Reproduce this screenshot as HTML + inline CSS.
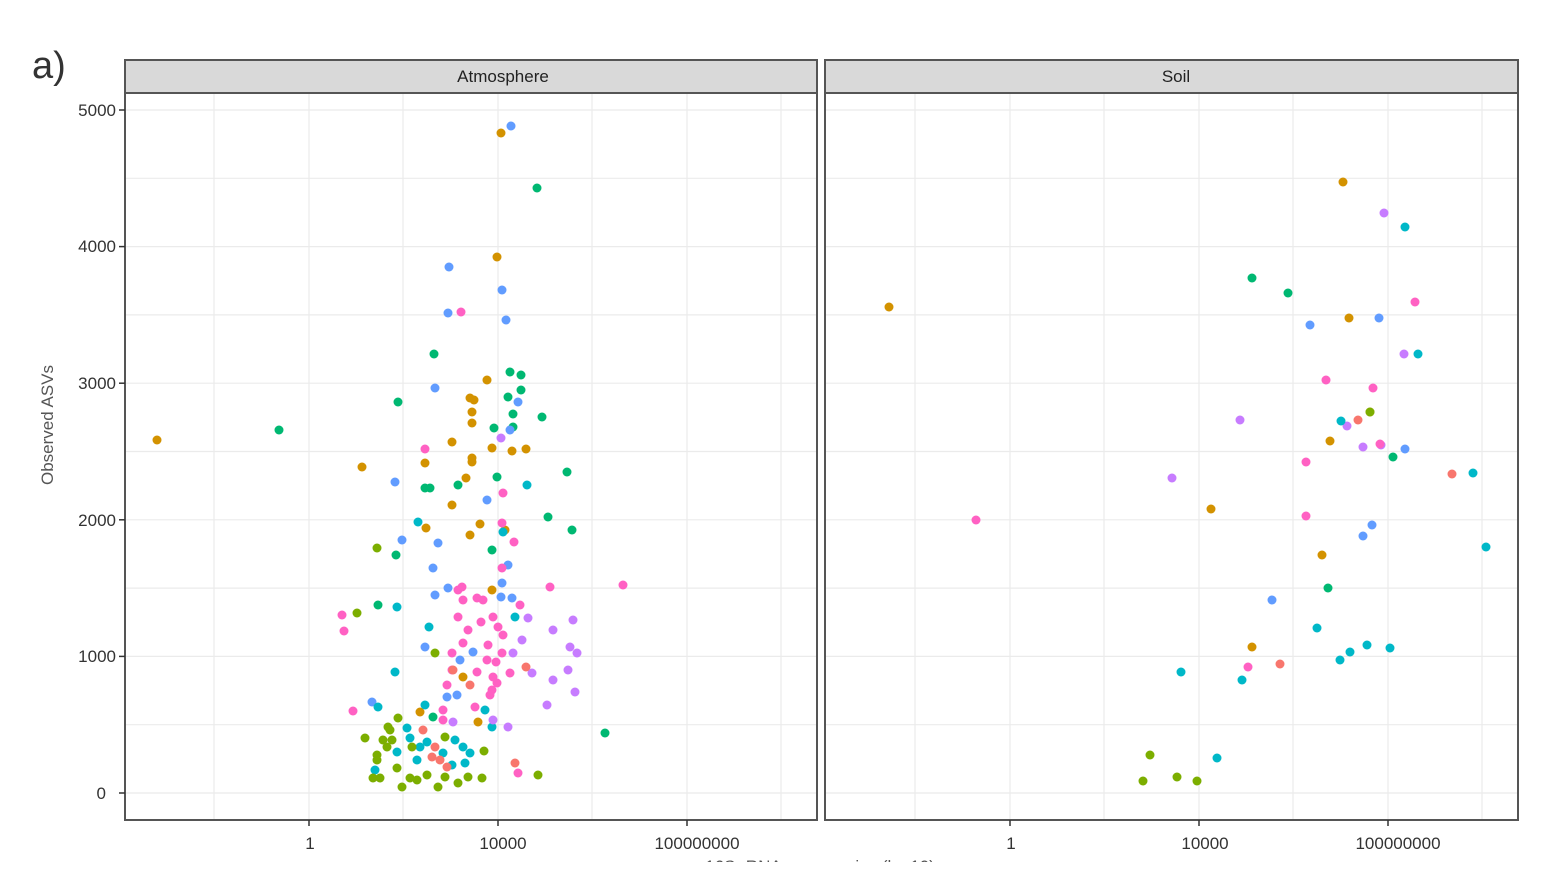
<!DOCTYPE html>
<html><head><meta charset="utf-8"><style>
html,body{margin:0;padding:0;background:#fff;}
svg{display:block;font-family:"Liberation Sans",Arial,sans-serif;}
</style></head><body>
<svg width="1560" height="885" viewBox="0 0 1560 885" xmlns="http://www.w3.org/2000/svg">
<text x="32" y="78" font-size="38" fill="#333">a)</text>
<!-- panels -->
<g stroke="#ebebeb" stroke-width="1.2">
<line x1="125" x2="817" y1="110" y2="110"/><line x1="125" x2="817" y1="246.6" y2="246.6"/><line x1="125" x2="817" y1="383.2" y2="383.2"/><line x1="125" x2="817" y1="519.8" y2="519.8"/><line x1="125" x2="817" y1="656.4" y2="656.4"/><line x1="125" x2="817" y1="793" y2="793"/>
<line x1="125" x2="817" y1="178.3" y2="178.3"/><line x1="125" x2="817" y1="314.9" y2="314.9"/><line x1="125" x2="817" y1="451.5" y2="451.5"/><line x1="125" x2="817" y1="588.1" y2="588.1"/><line x1="125" x2="817" y1="724.7" y2="724.7"/>
<line x1="214" x2="214" y1="93" y2="820"/><line x1="309" x2="309" y1="93" y2="820"/><line x1="403" x2="403" y1="93" y2="820"/><line x1="498" x2="498" y1="93" y2="820"/><line x1="592" x2="592" y1="93" y2="820"/><line x1="687" x2="687" y1="93" y2="820"/><line x1="781" x2="781" y1="93" y2="820"/>
<line x1="825" x2="1518" y1="110" y2="110"/><line x1="825" x2="1518" y1="246.6" y2="246.6"/><line x1="825" x2="1518" y1="383.2" y2="383.2"/><line x1="825" x2="1518" y1="519.8" y2="519.8"/><line x1="825" x2="1518" y1="656.4" y2="656.4"/><line x1="825" x2="1518" y1="793" y2="793"/>
<line x1="825" x2="1518" y1="178.3" y2="178.3"/><line x1="825" x2="1518" y1="314.9" y2="314.9"/><line x1="825" x2="1518" y1="451.5" y2="451.5"/><line x1="825" x2="1518" y1="588.1" y2="588.1"/><line x1="825" x2="1518" y1="724.7" y2="724.7"/>
<line x1="915" x2="915" y1="93" y2="820"/><line x1="1010" x2="1010" y1="93" y2="820"/><line x1="1104" x2="1104" y1="93" y2="820"/><line x1="1199" x2="1199" y1="93" y2="820"/><line x1="1293" x2="1293" y1="93" y2="820"/><line x1="1388" x2="1388" y1="93" y2="820"/><line x1="1482" x2="1482" y1="93" y2="820"/>
</g>
<rect x="125" y="60" width="692" height="33" fill="#d9d9d9" stroke="#555" stroke-width="2"/>
<rect x="825" y="60" width="693" height="33" fill="#d9d9d9" stroke="#555" stroke-width="2"/>
<text x="503" y="82" font-size="17" text-anchor="middle" fill="#222">Atmosphere</text>
<text x="1176" y="82" font-size="17" text-anchor="middle" fill="#222">Soil</text>
<rect x="125" y="93" width="692" height="727" fill="none" stroke="#555" stroke-width="2"/>
<rect x="825" y="93" width="693" height="727" fill="none" stroke="#555" stroke-width="2"/>
<!-- y ticks -->
<g font-size="17" fill="#333" text-anchor="end">
<text x="116" y="116">5000</text><text x="116" y="252">4000</text><text x="116" y="389">3000</text><text x="116" y="526">2000</text><text x="116" y="662">1000</text><text x="106" y="799">0</text>
</g>
<g stroke="#333" stroke-width="1.5"><line x1="119" x2="125" y1="110" y2="110"/><line x1="119" x2="125" y1="246.6" y2="246.6"/><line x1="119" x2="125" y1="383.2" y2="383.2"/><line x1="119" x2="125" y1="519.8" y2="519.8"/><line x1="119" x2="125" y1="656.4" y2="656.4"/><line x1="119" x2="125" y1="793" y2="793"/>
<line x1="309" x2="309" y1="820" y2="826"/><line x1="498" x2="498" y1="820" y2="826"/><line x1="687" x2="687" y1="820" y2="826"/>
<line x1="1010" x2="1010" y1="820" y2="826"/><line x1="1199" x2="1199" y1="820" y2="826"/><line x1="1388" x2="1388" y1="820" y2="826"/></g>
<g font-size="17" fill="#333" text-anchor="middle">
<text x="310" y="849">1</text><text x="503" y="849">10000</text><text x="697" y="849">100000000</text>
<text x="1011" y="849">1</text><text x="1205" y="849">10000</text><text x="1398" y="849">100000000</text>
</g>
<text x="820" y="872" font-size="17" fill="#555" text-anchor="middle">16S rRNA gene copies (log10)</text>
<text transform="translate(53,425) rotate(-90)" font-size="17" fill="#555" text-anchor="middle">Observed ASVs</text>
<g>
<!-- left: teal -->
<g fill="#00B872"><circle cx="510" cy="372" r="4.5"/><circle cx="521" cy="375" r="4.5"/><circle cx="521" cy="390" r="4.5"/><circle cx="508" cy="397" r="4.5"/><circle cx="513" cy="414" r="4.5"/><circle cx="513" cy="427" r="4.5"/><circle cx="494" cy="428" r="4.5"/><circle cx="542" cy="417" r="4.5"/><circle cx="398" cy="402" r="4.5"/><circle cx="497" cy="477" r="4.5"/><circle cx="458" cy="485" r="4.5"/><circle cx="425" cy="488" r="4.5"/><circle cx="430" cy="488" r="4.5"/><circle cx="567" cy="472" r="4.5"/><circle cx="548" cy="517" r="4.5"/><circle cx="572" cy="530" r="4.5"/><circle cx="492" cy="550" r="4.5"/><circle cx="396" cy="555" r="4.5"/><circle cx="378" cy="605" r="4.5"/><circle cx="605" cy="733" r="4.5"/><circle cx="279" cy="430" r="4.5"/><circle cx="537" cy="188" r="4.5"/><circle cx="434" cy="354" r="4.5"/><circle cx="433" cy="717" r="4.5"/></g>
<g fill="#D39200"><circle cx="157" cy="440" r="4.5"/><circle cx="501" cy="133" r="4.5"/><circle cx="497" cy="257" r="4.5"/><circle cx="487" cy="380" r="4.5"/><circle cx="470" cy="398" r="4.5"/><circle cx="474" cy="400" r="4.5"/><circle cx="472" cy="412" r="4.5"/><circle cx="472" cy="423" r="4.5"/><circle cx="452" cy="442" r="4.5"/><circle cx="492" cy="448" r="4.5"/><circle cx="512" cy="451" r="4.5"/><circle cx="526" cy="449" r="4.5"/><circle cx="425" cy="463" r="4.5"/><circle cx="472" cy="458" r="4.5"/><circle cx="472" cy="462" r="4.5"/><circle cx="362" cy="467" r="4.5"/><circle cx="466" cy="478" r="4.5"/><circle cx="452" cy="505" r="4.5"/><circle cx="480" cy="524" r="4.5"/><circle cx="470" cy="535" r="4.5"/><circle cx="426" cy="528" r="4.5"/><circle cx="505" cy="530" r="4.5"/><circle cx="492" cy="590" r="4.5"/><circle cx="463" cy="677" r="4.5"/><circle cx="478" cy="722" r="4.5"/><circle cx="420" cy="712" r="4.5"/></g>
<g fill="#619CFF"><circle cx="511" cy="126" r="4.5"/><circle cx="449" cy="267" r="4.5"/><circle cx="502" cy="290" r="4.5"/><circle cx="506" cy="320" r="4.5"/><circle cx="448" cy="313" r="4.5"/><circle cx="435" cy="388" r="4.5"/><circle cx="518" cy="402" r="4.5"/><circle cx="510" cy="430" r="4.5"/><circle cx="395" cy="482" r="4.5"/><circle cx="487" cy="500" r="4.5"/><circle cx="402" cy="540" r="4.5"/><circle cx="438" cy="543" r="4.5"/><circle cx="433" cy="568" r="4.5"/><circle cx="448" cy="588" r="4.5"/><circle cx="435" cy="595" r="4.5"/><circle cx="501" cy="597" r="4.5"/><circle cx="512" cy="598" r="4.5"/><circle cx="502" cy="583" r="4.5"/><circle cx="508" cy="565" r="4.5"/><circle cx="425" cy="647" r="4.5"/><circle cx="473" cy="652" r="4.5"/><circle cx="460" cy="660" r="4.5"/><circle cx="457" cy="695" r="4.5"/><circle cx="447" cy="697" r="4.5"/><circle cx="372" cy="702" r="4.5"/></g>
<g fill="#00B8C8"><circle cx="527" cy="485" r="4.5"/><circle cx="418" cy="522" r="4.5"/><circle cx="503" cy="532" r="4.5"/><circle cx="397" cy="607" r="4.5"/><circle cx="515" cy="617" r="4.5"/><circle cx="429" cy="627" r="4.5"/><circle cx="395" cy="672" r="4.5"/><circle cx="378" cy="707" r="4.5"/><circle cx="425" cy="705" r="4.5"/><circle cx="485" cy="710" r="4.5"/><circle cx="492" cy="727" r="4.5"/><circle cx="407" cy="728" r="4.5"/><circle cx="410" cy="738" r="4.5"/><circle cx="420" cy="747" r="4.5"/><circle cx="397" cy="752" r="4.5"/><circle cx="417" cy="760" r="4.5"/><circle cx="443" cy="753" r="4.5"/><circle cx="463" cy="747" r="4.5"/><circle cx="470" cy="753" r="4.5"/><circle cx="465" cy="763" r="4.5"/><circle cx="452" cy="765" r="4.5"/><circle cx="375" cy="770" r="4.5"/><circle cx="427" cy="742" r="4.5"/><circle cx="455" cy="740" r="4.5"/></g>
<g fill="#FF61C3"><circle cx="461" cy="312" r="4.5"/><circle cx="425" cy="449" r="4.5"/><circle cx="503" cy="493" r="4.5"/><circle cx="502" cy="523" r="4.5"/><circle cx="514" cy="542" r="4.5"/><circle cx="502" cy="568" r="4.5"/><circle cx="462" cy="587" r="4.5"/><circle cx="458" cy="590" r="4.5"/><circle cx="550" cy="587" r="4.5"/><circle cx="623" cy="585" r="4.5"/><circle cx="477" cy="598" r="4.5"/><circle cx="483" cy="600" r="4.5"/><circle cx="463" cy="600" r="4.5"/><circle cx="520" cy="605" r="4.5"/><circle cx="342" cy="615" r="4.5"/><circle cx="344" cy="631" r="4.5"/><circle cx="458" cy="617" r="4.5"/><circle cx="481" cy="622" r="4.5"/><circle cx="493" cy="617" r="4.5"/><circle cx="498" cy="627" r="4.5"/><circle cx="503" cy="635" r="4.5"/><circle cx="468" cy="630" r="4.5"/><circle cx="463" cy="643" r="4.5"/><circle cx="488" cy="645" r="4.5"/><circle cx="452" cy="653" r="4.5"/><circle cx="502" cy="653" r="4.5"/><circle cx="487" cy="660" r="4.5"/><circle cx="496" cy="662" r="4.5"/><circle cx="477" cy="672" r="4.5"/><circle cx="510" cy="673" r="4.5"/><circle cx="452" cy="670" r="4.5"/><circle cx="493" cy="677" r="4.5"/><circle cx="497" cy="683" r="4.5"/><circle cx="492" cy="690" r="4.5"/><circle cx="447" cy="685" r="4.5"/><circle cx="490" cy="695" r="4.5"/><circle cx="443" cy="710" r="4.5"/><circle cx="443" cy="720" r="4.5"/><circle cx="475" cy="707" r="4.5"/><circle cx="353" cy="711" r="4.5"/><circle cx="518" cy="773" r="4.5"/></g>
<g fill="#C77CFF"><circle cx="501" cy="438" r="4.5"/><circle cx="528" cy="618" r="4.5"/><circle cx="553" cy="630" r="4.5"/><circle cx="573" cy="620" r="4.5"/><circle cx="522" cy="640" r="4.5"/><circle cx="570" cy="647" r="4.5"/><circle cx="577" cy="653" r="4.5"/><circle cx="513" cy="653" r="4.5"/><circle cx="532" cy="673" r="4.5"/><circle cx="568" cy="670" r="4.5"/><circle cx="553" cy="680" r="4.5"/><circle cx="575" cy="692" r="4.5"/><circle cx="547" cy="705" r="4.5"/><circle cx="508" cy="727" r="4.5"/><circle cx="493" cy="720" r="4.5"/><circle cx="453" cy="722" r="4.5"/></g>
<g fill="#F8766D"><circle cx="453" cy="670" r="4.5"/><circle cx="470" cy="685" r="4.5"/><circle cx="526" cy="667" r="4.5"/><circle cx="423" cy="730" r="4.5"/><circle cx="435" cy="747" r="4.5"/><circle cx="432" cy="757" r="4.5"/><circle cx="447" cy="767" r="4.5"/><circle cx="515" cy="763" r="4.5"/><circle cx="440" cy="760" r="4.5"/></g>
<g fill="#7CAE00"><circle cx="377" cy="548" r="4.5"/><circle cx="357" cy="613" r="4.5"/><circle cx="435" cy="653" r="4.5"/><circle cx="398" cy="718" r="4.5"/><circle cx="388" cy="727" r="4.5"/><circle cx="365" cy="738" r="4.5"/><circle cx="383" cy="740" r="4.5"/><circle cx="392" cy="740" r="4.5"/><circle cx="377" cy="755" r="4.5"/><circle cx="377" cy="760" r="4.5"/><circle cx="387" cy="747" r="4.5"/><circle cx="397" cy="768" r="4.5"/><circle cx="373" cy="778" r="4.5"/><circle cx="380" cy="778" r="4.5"/><circle cx="402" cy="787" r="4.5"/><circle cx="410" cy="778" r="4.5"/><circle cx="417" cy="780" r="4.5"/><circle cx="427" cy="775" r="4.5"/><circle cx="438" cy="787" r="4.5"/><circle cx="445" cy="777" r="4.5"/><circle cx="458" cy="783" r="4.5"/><circle cx="468" cy="777" r="4.5"/><circle cx="482" cy="778" r="4.5"/><circle cx="484" cy="751" r="4.5"/><circle cx="538" cy="775" r="4.5"/><circle cx="445" cy="737" r="4.5"/><circle cx="412" cy="747" r="4.5"/><circle cx="390" cy="730" r="4.5"/></g>
<!-- right panel -->
<g fill="#D39200"><circle cx="889" cy="307" r="4.5"/><circle cx="1343" cy="182" r="4.5"/><circle cx="1349" cy="318" r="4.5"/><circle cx="1211" cy="509" r="4.5"/><circle cx="1370" cy="412" r="4.5"/><circle cx="1330" cy="441" r="4.5"/><circle cx="1322" cy="555" r="4.5"/><circle cx="1252" cy="647" r="4.5"/></g>
<g fill="#C77CFF"><circle cx="1384" cy="213" r="4.5"/><circle cx="1240" cy="420" r="4.5"/><circle cx="1172" cy="478" r="4.5"/><circle cx="1404" cy="354" r="4.5"/><circle cx="1363" cy="447" r="4.5"/><circle cx="1381" cy="445" r="4.5"/><circle cx="1347" cy="426" r="4.5"/></g>
<g fill="#619CFF"><circle cx="1310" cy="325" r="4.5"/><circle cx="1379" cy="318" r="4.5"/><circle cx="1372" cy="525" r="4.5"/><circle cx="1363" cy="536" r="4.5"/><circle cx="1405" cy="449" r="4.5"/><circle cx="1272" cy="600" r="4.5"/></g>
<g fill="#00B8C8"><circle cx="1405" cy="227" r="4.5"/><circle cx="1418" cy="354" r="4.5"/><circle cx="1486" cy="547" r="4.5"/><circle cx="1473" cy="473" r="4.5"/><circle cx="1341" cy="421" r="4.5"/><circle cx="1317" cy="628" r="4.5"/><circle cx="1367" cy="645" r="4.5"/><circle cx="1350" cy="652" r="4.5"/><circle cx="1340" cy="660" r="4.5"/><circle cx="1390" cy="648" r="4.5"/><circle cx="1217" cy="758" r="4.5"/><circle cx="1181" cy="672" r="4.5"/><circle cx="1242" cy="680" r="4.5"/></g>
<g fill="#00B872"><circle cx="1252" cy="278" r="4.5"/><circle cx="1288" cy="293" r="4.5"/><circle cx="1328" cy="588" r="4.5"/><circle cx="1393" cy="457" r="4.5"/></g>
<g fill="#FF61C3"><circle cx="976" cy="520" r="4.5"/><circle cx="1415" cy="302" r="4.5"/><circle cx="1326" cy="380" r="4.5"/><circle cx="1373" cy="388" r="4.5"/><circle cx="1306" cy="462" r="4.5"/><circle cx="1306" cy="516" r="4.5"/><circle cx="1248" cy="667" r="4.5"/><circle cx="1380" cy="444" r="4.5"/></g>
<g fill="#F8766D"><circle cx="1358" cy="420" r="4.5"/><circle cx="1280" cy="664" r="4.5"/><circle cx="1452" cy="474" r="4.5"/></g>
<g fill="#7CAE00"><circle cx="1150" cy="755" r="4.5"/><circle cx="1143" cy="781" r="4.5"/><circle cx="1177" cy="777" r="4.5"/><circle cx="1197" cy="781" r="4.5"/><circle cx="1370" cy="412" r="4.5"/></g>
</g>
<rect x="0" y="862" width="1560" height="23" fill="#fff"/>
</svg>
</body></html>
